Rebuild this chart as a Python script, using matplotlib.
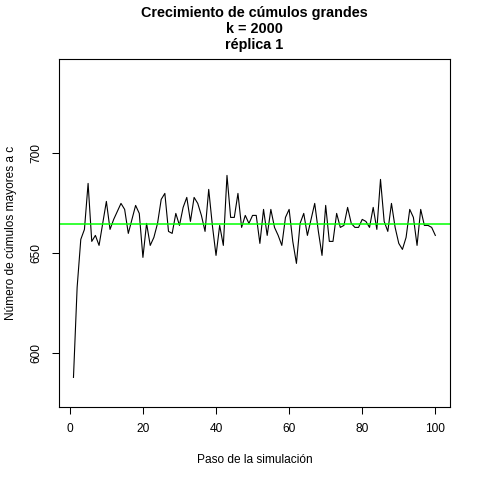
import matplotlib
matplotlib.use("Agg")
import matplotlib.pyplot as plt

plt.rcParams['font.family'] = ['Liberation Sans', 'DejaVu Sans']

# Datos de la réplica 1, k = 2000
pasos = list(range(1, 101))
cumulos = [588, 633, 657, 662, 685, 656, 659, 654, 665, 676,
           662, 667, 671, 675, 672, 660, 667, 674, 670, 648,
           665, 654, 658, 665, 677, 680, 661, 660, 670, 664,
           673, 678, 666, 678, 675, 669, 661, 682, 664, 649,
           664, 654, 689, 668, 668, 680, 663, 669, 665, 669,
           669, 655, 672, 659, 672, 663, 659, 654, 668, 672,
           656, 645, 665, 670, 659, 667, 675, 661, 649, 674,
           656, 656, 670, 663, 664, 673, 665, 663, 663, 667,
           666, 663, 673, 662, 687, 666, 661, 675, 663, 655,
           652, 658, 672, 668, 654, 672, 664, 664, 663, 659]
promedio = 664.5
x_ticks = [0, 20, 40, 60, 80, 100]
y_ticks = [600, 650, 700]

fig = plt.figure(figsize=(4.8, 4.8), dpi=100)
ax = fig.add_axes([59 / 480, 73.4 / 480, 390.8 / 480, 347.6 / 480])

ax.plot(pasos, cumulos, color='black', linewidth=0.8)
ax.axhline(promedio, color='#00ff00', linewidth=1.1)

ax.set_xlim(-2.96, 103.96)
ax.set_ylim(573.4, 747.2)
ax.set_xticks(x_ticks)
ax.set_yticks(y_ticks)
ax.tick_params(direction='out', length=5.2, width=0.75, labelsize=8.6, pad=6.5)
for lab in ax.get_yticklabels():
    lab.set_rotation(90)
    lab.set_va('center')
for s in ax.spines.values():
    s.set_linewidth(0.8)

ax.set_xlabel('Paso de la simulación', fontsize=8.6)
ax.set_ylabel('Número de cúmulos mayores a c', fontsize=8.6)
ax.xaxis.set_label_coords(0.5, -0.135)
ax.yaxis.set_label_coords(-0.108, 0.5)

fig.suptitle('Crecimiento de cúmulos grandes\nk = 2000\nréplica 1',
             fontsize=10.4, fontweight='bold', y=0.988, linespacing=1.2,
             x=(59 + 449.8) / 2 / 480)

fig.savefig('out.png', dpi=100)
